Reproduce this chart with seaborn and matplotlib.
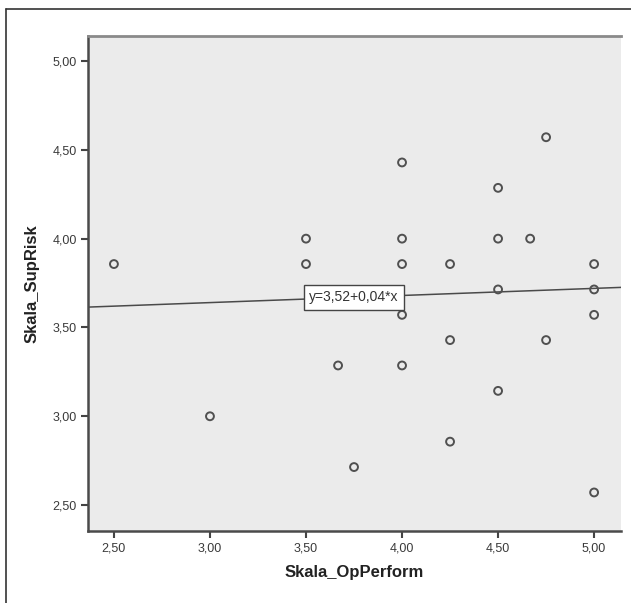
import matplotlib
matplotlib.use("Agg")
import matplotlib.pyplot as plt
from matplotlib.lines import Line2D
import numpy as np
import pandas as pd
import seaborn as sns

# Scale scores per respondent
op_perform = [2.50, 3.00, 3.50, 3.50, 3.667, 3.75,
              4.00, 4.00, 4.00, 4.00, 4.00,
              4.25, 4.25, 4.25,
              4.50, 4.50, 4.50, 4.50,
              4.667, 4.75, 4.75,
              5.00, 5.00, 5.00, 5.00]
sup_risk = [3.857, 3.000, 4.000, 3.857, 3.286, 2.714,
            4.429, 4.000, 3.857, 3.571, 3.286,
            3.857, 3.429, 2.857,
            4.286, 4.000, 3.714, 3.143,
            4.000, 4.571, 3.429,
            3.857, 3.714, 3.571, 2.571]

# Linear fit: y = intercept + slope * x
intercept = 3.52
slope = 0.04
fit_label = "y=3,52+0,04*x"

x_ticks = [2.5, 3.0, 3.5, 4.0, 4.5, 5.0]
x_tick_labels = ["2,50", "3,00", "3,50", "4,00", "4,50", "5,00"]
y_ticks = [2.5, 3.0, 3.5, 4.0, 4.5, 5.0]
y_tick_labels = ["2,50", "3,00", "3,50", "4,00", "4,50", "5,00"]

x_name = "Skala_OpPerform"
y_name = "Skala_SupRisk"

df = pd.DataFrame({x_name: op_perform, y_name: sup_risk})

sns.set_theme(style="white")
plt.rcParams["font.family"] = ["Liberation Sans", "DejaVu Sans"]

W, H = 631, 603
fig = plt.figure(figsize=(W / 100, H / 100), dpi=100)
fig.patch.set_facecolor("white")

left, right, top, bottom = 88, 621, 36, 531
ax = fig.add_axes([left / W, 1 - bottom / H, (right - left) / W, (bottom - top) / H])
ax.set_facecolor("#ebebeb")

xlim = (2.365, 5.14)
ylim = (2.354, 5.141)

# Fit line across the full x range
xs = np.array(xlim)
ax.plot(xs, intercept + slope * xs, color="#4a4a4a", lw=1.1, zorder=2)

sns.scatterplot(data=df, x=x_name, y=y_name, ax=ax, marker="o",
                s=32, facecolor="none", edgecolor="#505050", linewidth=1.4,
                zorder=3, legend=False)

# Equation label sitting on the fit line
lx = 3.75
ax.text(lx, intercept + slope * lx, fit_label, ha="center", va="center",
        fontsize=10, color="#333333", zorder=4,
        bbox=dict(boxstyle="square,pad=0.4", fc="white", ec="#444444", lw=1.0))

ax.set_xlim(*xlim)
ax.set_ylim(*ylim)
ax.set_xticks(x_ticks)
ax.set_xticklabels(x_tick_labels)
ax.set_yticks(y_ticks)
ax.set_yticklabels(y_tick_labels)
ax.tick_params(axis="both", which="major", length=5, width=1.5, color="#444444",
               labelsize=9, labelcolor="#3a3a3a", pad=3, bottom=True, left=True)

ax.set_xlabel(x_name, fontsize=12, fontweight="bold", color="#222222", labelpad=8)
ax.set_ylabel(y_name, fontsize=12, fontweight="bold", color="#222222", labelpad=9)

for side in ["left", "bottom"]:
    ax.spines[side].set_color("#4a4a4a")
    ax.spines[side].set_linewidth(1.8)
ax.spines["top"].set_color("#8a8a8a")
ax.spines["top"].set_linewidth(2.0)
ax.spines["right"].set_visible(False)

# Outer chart frame (top and left edges)
fig.add_artist(Line2D([6 / W, 6 / W], [0, 1 - 9 / H], transform=fig.transFigure,
                      color="#333333", lw=1.2))
fig.add_artist(Line2D([6 / W, 1], [1 - 9 / H, 1 - 9 / H], transform=fig.transFigure,
                      color="#333333", lw=1.2))

fig.savefig("out.png", dpi=100)
